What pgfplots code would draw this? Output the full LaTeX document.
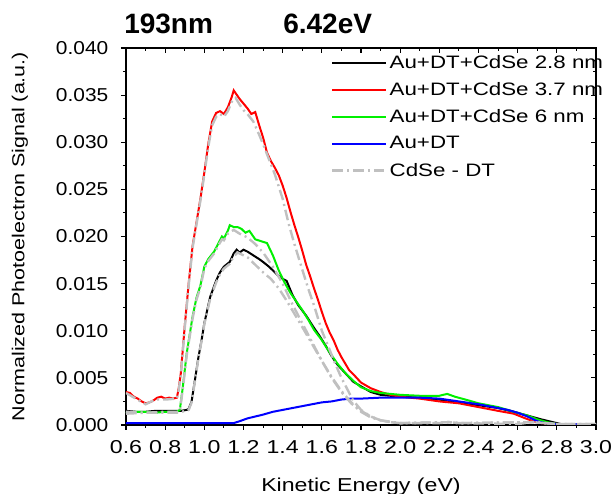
\documentclass[border=0pt]{standalone}
\usepackage{fontspec}
\setmainfont{Liberation Sans}[FakeStretch=1.24]
\newfontfamily\titlefont{Liberation Sans}
\newfontfamily\ytickfont{Liberation Sans}[FakeStretch=1.12]
\usepackage{pgfplots}
\pgfplotsset{compat=1.18}
\definecolor{cgray}{RGB}{192,192,192}
\definecolor{cgreen}{RGB}{0,240,0}
\definecolor{cblue}{RGB}{0,0,255}
\definecolor{cred}{RGB}{255,0,0}

\pgfplotsset{
  basebox/.style={
    width=352.5pt, height=282.75pt, scale only axis,
    xmin=0.6, xmax=3.0, ymin=0, ymax=0.04,
    xtick={0.6,0.8,1.0,1.2,1.4,1.6,1.8,2.0,2.2,2.4,2.6,2.8,3.0},
    ytick={0,0.005,0.010,0.015,0.020,0.025,0.030,0.035,0.040},
    minor x tick num=1, minor y tick num=1,
    scaled y ticks=false, scaled x ticks=false,
    axis line style={line width=0.9pt},
    tick style={line width=0.8pt, black},
    major tick length=3.75pt, minor tick length=2.25pt,
  },
  cline/.style={line width=1.5pt},
  gline/.style={cgray, line width=1.8pt, dash pattern=on 8pt off 3pt on 1.5pt off 3pt},
}

\begin{document}
\begin{tikzpicture}
\begin{axis}[basebox, name=ax,
  tick align=outside, xtick pos=left, ytick pos=left,
  /pgf/number format/assume math mode=true,
  xticklabel style={/pgf/number format/fixed, /pgf/number format/fixed zerofill, /pgf/number format/precision=1, yshift=-4.5pt, font=\fontsize{14}{16}\selectfont},
  yticklabel style={/pgf/number format/fixed, /pgf/number format/fixed zerofill, /pgf/number format/precision=3, xshift=-6pt, font=\ytickfont\fontsize{14}{16}\selectfont},
  xlabel={Kinetic Energy (eV)},
  ylabel={Normalized Photoelectron Signal (a.u.)},
  xlabel style={font=\fontsize{14}{16}\selectfont, at={(axis description cs:0.5,-0.1777)}, anchor=base},
  ylabel style={font=\fontsize{13}{16}\selectfont, at={(axis description cs:-0.2255,0.5)}, anchor=center},
  legend cell align=left,
  legend image code/.code={\draw[#1] (0pt,0pt) -- (40pt,0pt);},
  legend style={at={(axis description cs:0.4277,0.9962)}, anchor=north west,
    draw=none, fill=none, font=\fontsize{13.5}{16}\selectfont, row sep=5.1pt},
]
% Au+DT+CdSe 2.8 nm
\addplot[cline, black] coordinates {
(0.60,0.0015)(0.65,0.0014)(0.70,0.0014)(0.75,0.0015)(0.80,0.0015)(0.85,0.0015)(0.88,0.0015)
(0.91,0.0016)(0.92,0.0017)(0.935,0.0025)(0.95,0.0045)(0.97,0.0072)(0.99,0.0095)(1.00,0.0108)
(1.03,0.0136)(1.06,0.0153)(1.08,0.0162)(1.10,0.0168)(1.13,0.0173)(1.15,0.0182)(1.165,0.0186)
(1.18,0.0183)(1.20,0.0186)(1.22,0.0184)(1.25,0.0180)(1.28,0.0176)(1.30,0.0173)(1.33,0.0168)
(1.36,0.0162)(1.39,0.0156)(1.42,0.0153)(1.45,0.0138)(1.48,0.0127)(1.52,0.0116)(1.56,0.0103)
(1.59,0.0094)(1.62,0.0084)(1.65,0.0073)(1.68,0.0064)(1.72,0.0055)(1.76,0.0046)(1.80,0.0041)
(1.85,0.0035)(1.90,0.0032)(2.00,0.0030)(2.10,0.0029)(2.20,0.0027)(2.30,0.0024)(2.40,0.0021)
(2.50,0.0018)(2.58,0.0014)(2.65,0.0010)(2.72,0.0006)(2.78,0.0003)(2.82,0.0001)(3.00,0.0001)
};
\addlegendentry{Au+DT+CdSe 2.8 nm}
% Au+DT+CdSe 3.7 nm
\addplot[cline, cred] coordinates {
(0.60,0.0035)(0.62,0.0034)(0.64,0.0030)(0.66,0.0028)(0.68,0.0025)(0.70,0.0023)(0.72,0.0024)
(0.74,0.0026)(0.76,0.0029)(0.78,0.0030)(0.80,0.0028)(0.82,0.0029)(0.84,0.0028)(0.86,0.0029)
(0.87,0.0040)(0.88,0.0055)(0.90,0.0105)(0.92,0.0150)(0.94,0.0190)(0.96,0.0215)(0.98,0.0240)
(1.00,0.0268)(1.02,0.0298)(1.04,0.0322)(1.06,0.0331)(1.08,0.0333)(1.10,0.0330)(1.12,0.0337)
(1.14,0.0348)(1.15,0.0355)(1.16,0.0352)(1.18,0.0346)(1.20,0.0341)(1.22,0.0336)(1.24,0.0330)
(1.26,0.0332)(1.28,0.0318)(1.30,0.0305)(1.32,0.0289)(1.34,0.0280)(1.36,0.0273)(1.38,0.0265)
(1.40,0.0254)(1.42,0.0241)(1.44,0.0226)(1.46,0.0212)(1.48,0.0199)(1.50,0.0185)(1.52,0.0170)
(1.54,0.0158)(1.56,0.0145)(1.58,0.0133)(1.60,0.0120)(1.62,0.0108)(1.64,0.0098)(1.66,0.0090)
(1.68,0.0080)(1.70,0.0072)(1.72,0.0065)(1.74,0.0058)(1.76,0.0054)(1.80,0.0045)(1.85,0.0039)
(1.90,0.0035)(1.95,0.0032)(2.00,0.0030)(2.10,0.0028)(2.20,0.0025)(2.30,0.0023)(2.40,0.0019)
(2.50,0.0015)(2.58,0.0012)(2.64,0.0007)(2.68,0.0004)(2.72,0.0002)(2.80,0.0001)(3.00,0.0001)
};
\addlegendentry{Au+DT+CdSe 3.7 nm}
% Au+DT+CdSe 6 nm
\addplot[cline, cgreen] coordinates {
(0.60,0.0013)(0.65,0.0014)(0.70,0.0014)(0.75,0.0013)(0.80,0.0014)(0.86,0.0014)(0.875,0.0016)
(0.89,0.0040)(0.90,0.0058)(0.91,0.0076)(0.94,0.0115)(0.96,0.0135)(0.98,0.0148)(1.00,0.0168)
(1.02,0.0176)(1.05,0.0184)(1.07,0.0192)(1.09,0.0200)(1.10,0.0198)(1.12,0.0206)(1.13,0.0212)
(1.15,0.0210)(1.17,0.0210)(1.19,0.0208)(1.21,0.0204)(1.23,0.0206)(1.24,0.0203)(1.26,0.0197)
(1.29,0.0195)(1.32,0.0193)(1.35,0.0180)(1.38,0.0164)(1.41,0.0151)(1.44,0.0140)(1.47,0.0131)
(1.50,0.0122)(1.53,0.0112)(1.56,0.0101)(1.60,0.0090)(1.64,0.0077)(1.68,0.0065)(1.72,0.0055)
(1.76,0.0047)(1.80,0.0040)(1.85,0.0036)(1.90,0.0034)(2.00,0.0032)(2.10,0.0031)(2.20,0.0031)
(2.24,0.0033)(2.28,0.0030)(2.35,0.0026)(2.40,0.0023)(2.50,0.0019)(2.58,0.0014)(2.65,0.0010)
(2.70,0.0006)(2.75,0.0003)(2.80,0.0001)(3.00,0.0001)
};
\addlegendentry{Au+DT+CdSe 6 nm}
% Au+DT
\addplot[cline, cblue] coordinates {
(0.60,0.0002)(0.70,0.0002)(0.80,0.0002)(0.90,0.0002)(1.00,0.0002)(1.10,0.0002)(1.15,0.0002)
(1.18,0.0004)(1.22,0.0007)(1.26,0.0009)(1.30,0.0011)(1.35,0.0014)(1.40,0.0016)(1.45,0.0018)
(1.50,0.0020)(1.55,0.0022)(1.60,0.0024)(1.65,0.0025)(1.70,0.0027)(1.75,0.0028)(1.80,0.0028)
(1.90,0.0029)(2.00,0.0029)(2.10,0.0029)(2.20,0.0028)(2.30,0.0025)(2.40,0.0022)(2.50,0.0018)
(2.55,0.0016)(2.60,0.0013)(2.65,0.0009)(2.70,0.0004)(2.74,0.0002)(2.80,0.0001)(3.00,0.0001)
};
\addlegendentry{Au+DT}
% CdSe - DT scaled to 3.7 nm
\addplot[gline] coordinates {
(0.60,0.0034)(0.65,0.0028)(0.70,0.0022)(0.75,0.0027)(0.80,0.0027)(0.86,0.0028)(0.87,0.0038)
(0.88,0.0053)(0.90,0.0103)(0.92,0.0148)(0.94,0.0188)(0.96,0.0213)(0.98,0.0238)(1.00,0.0266)
(1.02,0.0295)(1.04,0.0318)(1.06,0.0327)(1.08,0.0330)(1.10,0.0327)(1.12,0.0333)(1.14,0.0343)
(1.16,0.0347)(1.18,0.0340)(1.20,0.0334)(1.22,0.0330)(1.25,0.0322)(1.28,0.0308)(1.30,0.0298)
(1.33,0.0282)(1.36,0.0266)(1.40,0.0240)(1.43,0.0214)(1.46,0.0192)(1.50,0.0165)(1.53,0.0145)
(1.56,0.0127)(1.60,0.0100)(1.63,0.0085)(1.66,0.0069)(1.70,0.0050)(1.73,0.0038)(1.76,0.0026)
(1.80,0.0016)(1.85,0.0009)(1.90,0.0005)(1.95,0.0003)(2.00,0.0002)(2.20,0.0002)(2.25,0.0003)
(2.30,0.0002)(2.60,0.0001)(2.68,0.0003)(2.74,0.0002)(2.80,0.0001)(3.00,0.0001)
};
\addlegendentry{CdSe - DT}
% CdSe - DT scaled to 6 nm
\addplot[gline, forget plot] coordinates {
(0.60,0.0012)(0.70,0.0013)(0.80,0.0013)(0.86,0.0013)(0.875,0.0015)(0.89,0.0038)(0.90,0.0056)
(0.91,0.0074)(0.94,0.0113)(0.96,0.0133)(0.98,0.0146)(1.00,0.0166)(1.02,0.0174)(1.05,0.0182)
(1.07,0.0190)(1.09,0.0197)(1.10,0.0196)(1.12,0.0203)(1.15,0.0207)(1.18,0.0203)(1.22,0.0199)
(1.26,0.0192)(1.30,0.0183)(1.35,0.0168)(1.40,0.0150)(1.45,0.0128)(1.50,0.0108)(1.55,0.0088)
(1.60,0.0068)(1.65,0.0050)(1.70,0.0035)(1.75,0.0023)(1.80,0.0014)(1.85,0.0008)(1.90,0.0005)
(2.00,0.0002)(2.25,0.0003)(2.30,0.0002)(2.68,0.0003)(2.80,0.0001)(3.00,0.0001)
};
% CdSe - DT scaled to 2.8 nm
\addplot[gline, forget plot] coordinates {
(0.60,0.0014)(0.70,0.0013)(0.80,0.0014)(0.88,0.0014)(0.91,0.0015)(0.92,0.0016)(0.935,0.0024)
(0.95,0.0044)(0.97,0.0071)(0.99,0.0094)(1.00,0.0107)(1.03,0.0134)(1.06,0.0151)(1.08,0.0160)
(1.10,0.0166)(1.13,0.0171)(1.15,0.0179)(1.17,0.0183)(1.22,0.0178)(1.26,0.0170)(1.30,0.0162)
(1.34,0.0155)(1.38,0.0145)(1.42,0.0132)(1.46,0.0118)(1.50,0.0104)(1.55,0.0086)(1.60,0.0068)
(1.65,0.0051)(1.70,0.0036)(1.75,0.0024)(1.80,0.0015)(1.85,0.0009)(1.90,0.0005)(1.95,0.0003)
(2.00,0.0002)(2.25,0.0003)(2.30,0.0002)(2.68,0.0003)(2.80,0.0001)(3.00,0.0001)
};
\end{axis}
\begin{axis}[basebox, tick align=inside, xtick pos=right, ytick pos=right,
  xticklabels={}, yticklabels={}, axis line style={draw=none}]
\end{axis}
\node[anchor=base west, inner sep=0pt, font=\titlefont\bfseries\fontsize{21}{24}\selectfont]
  at ([shift={(-1.5pt,10.5pt)}]ax.north west) {193nm};
\node[anchor=base west, inner sep=0pt, font=\titlefont\bfseries\fontsize{21}{24}\selectfont]
  at ([shift={(117.75pt,10.5pt)}]ax.north west) {6.42eV};
\pgfresetboundingbox
\path ([shift={(-94.5pt,-51.75pt)}]ax.south west) rectangle ([shift={(11.25pt,36pt)}]ax.north east);
\end{tikzpicture}
\end{document}
